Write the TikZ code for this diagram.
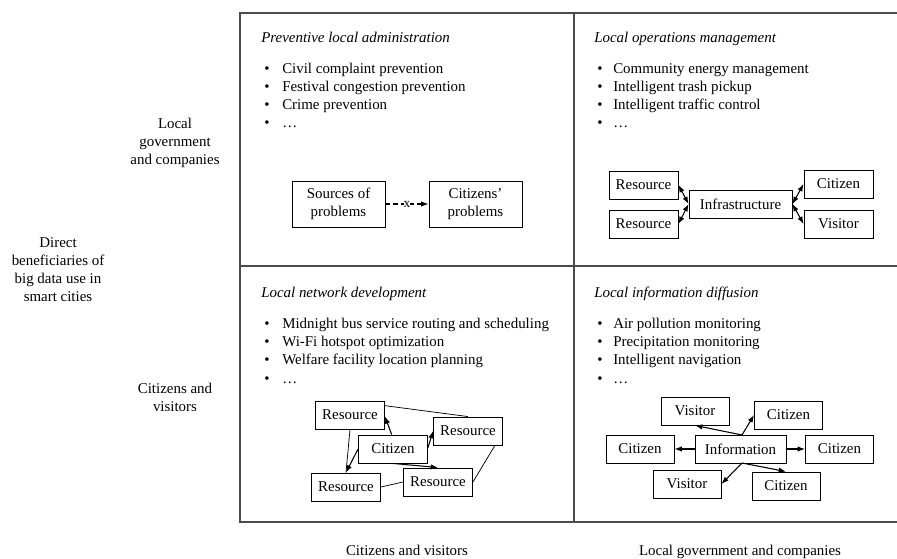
\documentclass[tikz,border=0pt]{standalone}
\usepackage{fontspec}
\setmainfont{Liberation Serif}
\usetikzlibrary{arrows.meta}
\begin{document}
\begin{tikzpicture}[x=0.75pt,y=-0.75pt,
  frame/.style={line width=1.1pt, draw=black!70},
  txt/.style={anchor=base west, inner sep=0, font=\fontsize{11.2}{13.5}\selectfont},
  ttl/.style={anchor=base west, inner sep=0, font=\fontsize{11.2}{13.5}\selectfont\itshape},
  lbl/.style={align=center, inner sep=0, font=\fontsize{11.2}{13.5}\selectfont},
  box/.style={draw, line width=0.65pt, inner sep=0, align=center, font=\fontsize{11.2}{13.5}\selectfont},
  arr/.style={-{Latex[length=5.5pt,width=4pt]}, line width=0.8pt},
  darr/.style={{Latex[length=5.5pt,width=4pt]}-{Latex[length=5.5pt,width=4pt]}, line width=0.8pt},
  link/.style={line width=0.55pt}
]
\useasboundingbox (0,0) rectangle (897,559);
\clip (0,0) rectangle (897,559);

% ---- 2x2 matrix frame ----
\draw[frame] (905,13) -- (240,13) -- (240,522) -- (905,522);
\draw[frame] (574,13) -- (574,522);
\draw[frame] (240,266) -- (905,266);

% ---- axis labels ----
\node[lbl] (rowtop) at (175,143) {Local\\government\\and companies};
\node[lbl] (axis) at (58,270) {Direct\\beneficiaries of\\big data use in\\smart cities};
\node[lbl] (rowbot) at (175,397) {Citizens and\\visitors};
\node[lbl, anchor=base] (colleft) at (407,556) {Citizens and visitors};
\node[lbl, anchor=base] (colright) at (740,556) {Local government and companies};

% ---- top-left quadrant ----
\node[ttl] (t1) at (261,43) {Preventive local administration};
\node[txt] (b1a) at (264,74) {\textbullet};  \node[txt] (l1a) at (282,74) {Civil complaint prevention};
\node[txt] (b1b) at (264,92) {\textbullet};  \node[txt] (l1b) at (282,92) {Festival congestion prevention};
\node[txt] (b1c) at (264,110) {\textbullet}; \node[txt] (l1c) at (282,110) {Crime prevention};
\node[txt] (b1d) at (264,128) {\textbullet}; \node[txt] (l1d) at (282,128) {…};

\node[box, minimum width=69.75pt, minimum height=34.5pt] (src) at (338.5,204) {Sources of\\problems};
\node[box, minimum width=69.75pt, minimum height=34.5pt] (cpb) at (475.5,204) {Citizens’\\problems};
\draw[arr, dash pattern=on 3.5pt off 2.5pt] (src) -- (cpb)
  node[midway, inner sep=0, font=\fontsize{10}{12}\selectfont, fill=white] (cut) {x};

% ---- top-right quadrant ----
\node[ttl] (t2) at (594,43) {Local operations management};
\node[txt] (b2a) at (597,74) {\textbullet};  \node[txt] (l2a) at (613,74) {Community energy management};
\node[txt] (b2b) at (597,92) {\textbullet};  \node[txt] (l2b) at (613,92) {Intelligent trash pickup};
\node[txt] (b2c) at (597,110) {\textbullet}; \node[txt] (l2c) at (613,110) {Intelligent traffic control};
\node[txt] (b2d) at (597,128) {\textbullet}; \node[txt] (l2d) at (613,128) {…};

\node[box, minimum width=51.75pt, minimum height=21pt] (res1) at (643.5,185) {Resource};
\node[box, minimum width=51.75pt, minimum height=21pt] (res2) at (643.5,224) {Resource};
\node[box, minimum width=77.25pt, minimum height=21pt] (infra) at (740.5,204) {Infrastructure};
\node[box, minimum width=51.75pt, minimum height=21pt] (cit1) at (838.5,184) {Citizen};
\node[box, minimum width=51.75pt, minimum height=21pt] (vis1) at (838.5,224) {Visitor};
\draw[darr] (infra.west) -- (res1.east);
\draw[darr] (infra.west) -- (res2.east);
\draw[darr] (infra.east) -- (cit1.west);
\draw[darr] (infra.east) -- (vis1.west);

% ---- bottom-left quadrant ----
\node[ttl] (t3) at (261,298) {Local network development};
\node[txt] (b3a) at (264,329) {\textbullet}; \node[txt] (l3a) at (282,329) {Midnight bus service routing and scheduling};
\node[txt] (b3b) at (264,347) {\textbullet}; \node[txt] (l3b) at (282,347) {Wi-Fi hotspot optimization};
\node[txt] (b3c) at (264,365) {\textbullet}; \node[txt] (l3c) at (282,365) {Welfare facility location planning};
\node[txt] (b3d) at (264,384) {\textbullet}; \node[txt] (l3d) at (282,384) {…};

\node[box, minimum width=51.75pt, minimum height=21pt] (ra) at (350,415) {Resource};
\node[box, minimum width=51.75pt, minimum height=21pt] (rb) at (468,431) {Resource};
\node[box, minimum width=51.75pt, minimum height=21pt] (cz) at (393,449) {Citizen};
\node[box, minimum width=51.75pt, minimum height=21pt] (rc) at (346,487) {Resource};
\node[box, minimum width=51.75pt, minimum height=21pt] (rd) at (438,482) {Resource};
\draw[link] ([yshift=7pt]ra.east) -- (rb.north);
\draw[link] (ra.south) -- (rc.north);
\draw[link] (rc.east) -- (rd.west);
\draw[link] ([xshift=-6pt]rb.south east) -- (rd.east);
\draw[arr] ([xshift=-1pt]cz.north) -- ([yshift=-1pt]ra.east);
\draw[arr] ([yshift=1pt]cz.east) -- (rb.west);
\draw[arr] (cz.west) -- (rc.north);
\draw[arr] (cz.south) -- (rd.north);

% ---- bottom-right quadrant ----
\node[ttl] (t4) at (594,298) {Local information diffusion};
\node[txt] (b4a) at (597,329) {\textbullet}; \node[txt] (l4a) at (613,329) {Air pollution monitoring};
\node[txt] (b4b) at (597,347) {\textbullet}; \node[txt] (l4b) at (613,347) {Precipitation monitoring};
\node[txt] (b4c) at (597,365) {\textbullet}; \node[txt] (l4c) at (613,365) {Intelligent navigation};
\node[txt] (b4d) at (597,384) {\textbullet}; \node[txt] (l4d) at (613,384) {…};

\node[box, minimum width=68.25pt, minimum height=21pt] (info) at (740.5,449) {Information};
\node[box, minimum width=51pt, minimum height=21pt] (vt) at (695,411) {Visitor};
\node[box, minimum width=51pt, minimum height=21pt] (ct) at (788.5,415) {Citizen};
\node[box, minimum width=51pt, minimum height=21pt] (cl) at (640,449) {Citizen};
\node[box, minimum width=51pt, minimum height=21pt] (cr) at (839.5,449) {Citizen};
\node[box, minimum width=51pt, minimum height=21pt] (vb) at (687,484) {Visitor};
\node[box, minimum width=51pt, minimum height=21pt] (cb) at (786,486) {Citizen};
\coordinate (itop) at (742,435);
\coordinate (ibot) at (742,463);
\draw[arr] (itop) -- (vt.south);
\draw[arr] (itop) -- (ct.west);
\draw[arr] (info.west) -- (cl.east);
\draw[arr] (info.east) -- (cr.west);
\draw[arr] (ibot) -- (vb.east);
\draw[arr] (ibot) -- (cb.north);
\end{tikzpicture}
\end{document}
